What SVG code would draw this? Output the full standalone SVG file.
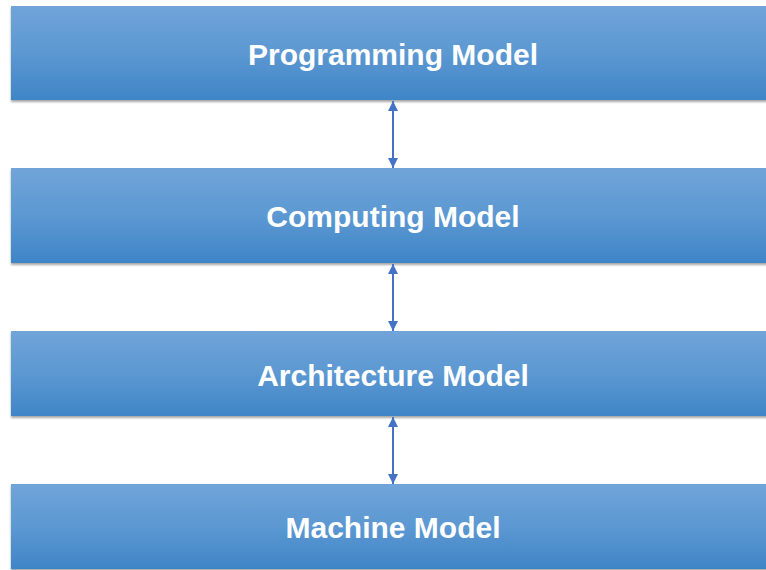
<svg xmlns="http://www.w3.org/2000/svg" width="766" height="570" viewBox="0 0 766 570">
  <defs>
    <linearGradient id="g" x1="0" y1="0" x2="0" y2="1">
      <stop offset="0" stop-color="#70A4D9"/>
      <stop offset="0.5" stop-color="#5C98D2"/>
      <stop offset="1" stop-color="#3F85C7"/>
    </linearGradient>
    <filter id="sh" x="-5%" y="-10%" width="110%" height="130%">
      <feDropShadow dx="0" dy="2" stdDeviation="1.2" flood-color="#000" flood-opacity="0.35"/>
    </filter>
    <marker id="ah" viewBox="0 0 10 10" refX="10" refY="5" markerWidth="10" markerHeight="10" markerUnits="userSpaceOnUse" orient="auto-start-reverse">
      <path d="M0,0 L10,5 L0,10 Z" fill="#4472C4"/>
    </marker>
    <style>
      .box { fill: url(#g); filter: url(#sh); }
      .lbl { font-family: "Liberation Sans", Arial, sans-serif; font-weight: bold; font-size: 30px; fill: #FFFFFF; text-anchor: middle; }
      .conn { stroke: #4472C4; stroke-width: 2; fill: none; marker-start: url(#ah); marker-end: url(#ah); }
    </style>
  </defs>
  <rect width="766" height="570" fill="#FFFFFF"/>
  <g id="programming-model">
    <rect class="box" x="11" y="6" width="760" height="94"/>
    <text class="lbl" x="393" y="65">Programming Model</text>
  </g>
  <g id="computing-model">
    <rect class="box" x="11" y="168" width="760" height="95"/>
    <text class="lbl" x="393" y="227">Computing Model</text>
  </g>
  <g id="architecture-model">
    <rect class="box" x="11" y="331" width="760" height="85"/>
    <text class="lbl" x="393" y="386">Architecture Model</text>
  </g>
  <g id="machine-model">
    <rect class="box" x="11" y="484" width="760" height="85"/>
    <text class="lbl" x="393" y="538">Machine Model</text>
  </g>
  <g id="connectors">
    <line class="conn" x1="393" y1="101" x2="393" y2="168"/>
    <line class="conn" x1="393" y1="264" x2="393" y2="331"/>
    <line class="conn" x1="393" y1="417" x2="393" y2="484"/>
  </g>
</svg>
